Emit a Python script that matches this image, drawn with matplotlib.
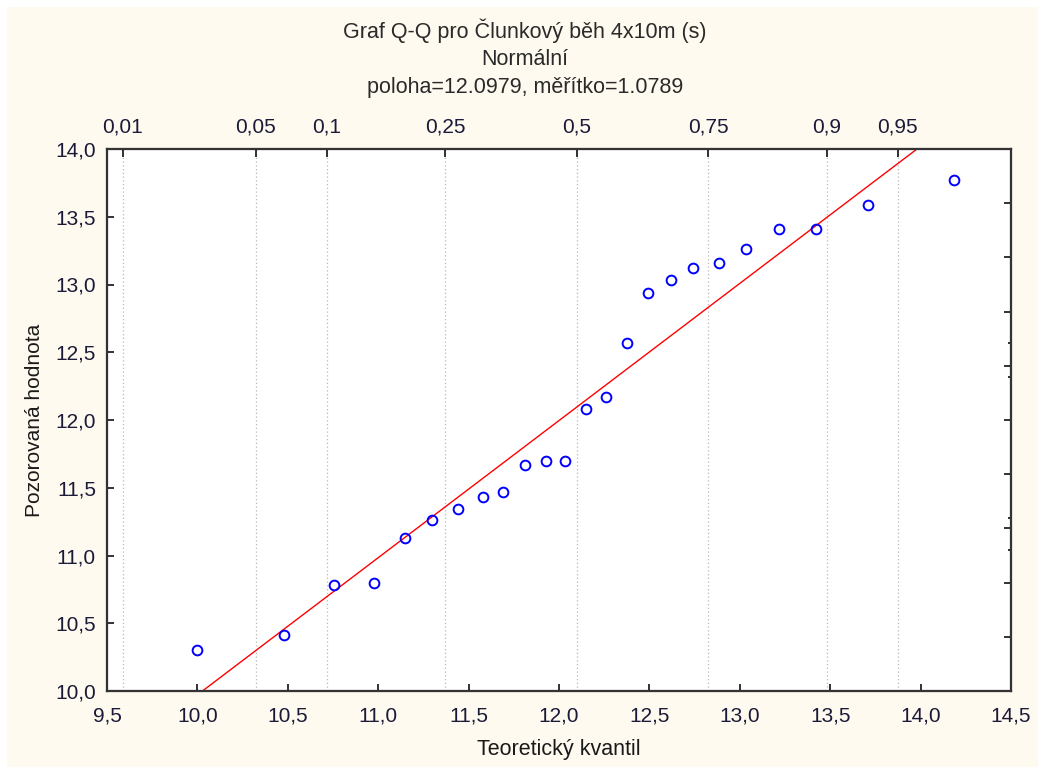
import matplotlib
matplotlib.use("Agg")
import matplotlib.pyplot as plt
from matplotlib.patches import Rectangle
from matplotlib.ticker import FuncFormatter
from statistics import NormalDist

plt.rcParams['font.family'] = ['Liberation Sans', 'DejaVu Sans']

# values
x_theor = [9.996, 10.478, 10.754, 10.977, 11.148, 11.300, 11.443, 11.577,
           11.690, 11.813, 11.927, 12.035, 12.148, 12.260, 12.376, 12.492,
           12.617, 12.739, 12.884, 13.035, 13.216, 13.423, 13.710, 14.185]
y_obs = [10.30, 10.41, 10.78, 10.80, 11.13, 11.26, 11.34, 11.43,
         11.47, 11.67, 11.70, 11.70, 12.08, 12.17, 12.57, 12.94,
         13.03, 13.12, 13.16, 13.26, 13.41, 13.41, 13.59, 13.77]
line_x = [10.028, 13.98]
line_y = [10.0, 14.0]

loc = 12.0979
scale = 1.0789
probs = [0.01, 0.05, 0.1, 0.25, 0.5, 0.75, 0.9, 0.95]
prob_labels = ["0,01", "0,05", "0,1", "0,25", "0,5", "0,75", "0,9", "0,95"]

x_ticks = [9.5, 10.0, 10.5, 11.0, 11.5, 12.0, 12.5, 13.0, 13.5, 14.0, 14.5]
y_ticks = [10.0, 10.5, 11.0, 11.5, 12.0, 12.5, 13.0, 13.5, 14.0]
right_major = [10.4, 10.8, 11.2, 11.6, 12.0, 12.4, 12.8, 13.2, 13.6]
right_minor = [11.04, 11.28, 12.32, 12.57]

title_lines = ["Graf Q-Q pro Člunkový běh 4x10m (s)", "Normální",
               "poloha=12.0979, měřítko=1.0789"]

W, H = 1038, 774
fig = plt.figure(figsize=(W / 100, H / 100), dpi=100, facecolor="white")
fig.patches.append(Rectangle((7 / W, 7 / H), 1 - 7 / W, 1 - 14 / H,
                             transform=fig.transFigure, facecolor="#fffaef",
                             edgecolor="none", zorder=-10))

ax = fig.add_axes([107 / W, 1 - 691 / H, (1011 - 107) / W, (691 - 149) / H])
ax.set_facecolor("white")

tick_col = "#1a1a38"
tick_fs = 15
comma = FuncFormatter(lambda v, p: f"{v:.1f}".replace(".", ","))

prob_pos = [NormalDist(loc, scale).inv_cdf(p) for p in probs]

ax.set_xlim(9.5, 14.5)
ax.set_ylim(10.0, 14.0)
ax.set_xticks(x_ticks)
ax.set_yticks(y_ticks)
ax.xaxis.set_major_formatter(comma)
ax.yaxis.set_major_formatter(comma)
ax.set_xticks(prob_pos, minor=True)
ax.tick_params(axis="x", which="minor", length=0)
ax.grid(True, which="minor", axis="x", linestyle=(0, (1, 2)), color="#b8b8b8", linewidth=0.9)
ax.tick_params(axis="both", which="major", direction="in", length=5, width=1.3,
               labelsize=tick_fs, labelcolor=tick_col, color="#222222")
ax.tick_params(axis="x", which="major", pad=11)
ax.tick_params(axis="y", which="major", pad=8)

for s in ax.spines.values():
    s.set_linewidth(1.5)
    s.set_color("#333333")

ax.plot(line_x, line_y, color="#ff0000", linewidth=1.0, zorder=2)
ax.plot(x_theor, y_obs, linestyle="none", marker="o", markersize=7,
        markerfacecolor="none", markeredgecolor="#0000ff", markeredgewidth=1.4, zorder=3)

ax.set_xlabel("Teoretický kvantil", fontsize=15.5, color="#1a1a1a", labelpad=10)
ax.set_ylabel("Pozorovaná hodnota", fontsize=15, color="#1a1a1a", labelpad=8)

# top probability axis
ax_top = ax.twiny()
ax_top.set_xlim(ax.get_xlim())
ax_top.set_xticks(prob_pos)
ax_top.set_xticklabels(prob_labels)
ax_top.tick_params(axis="x", direction="in", length=6, width=1.3, labelsize=tick_fs,
                   labelcolor=tick_col, color="#222222", pad=9)

# right spine ticks without labels
ax_r = ax.twinx()
ax_r.set_ylim(ax.get_ylim())
ax_r.set_yticks(right_major)
ax_r.set_yticks(right_minor, minor=True)
ax_r.tick_params(axis="y", which="major", direction="in", length=5, width=1.3,
                 labelright=False, color="#222222")
ax_r.tick_params(axis="y", which="minor", direction="in", length=2.5, width=1.3,
                 labelright=False, color="#222222")
for a in (ax_top, ax_r):
    for s in a.spines.values():
        s.set_linewidth(1.5)
        s.set_color("#333333")

for i, t in enumerate(title_lines):
    fig.text(525 / W, 1 - (31 + i * 28.5) / H, t, ha="center", va="center",
             fontsize=15.5, color="#2a2a2a")

fig.savefig("out.png", dpi=100, facecolor=fig.get_facecolor())
